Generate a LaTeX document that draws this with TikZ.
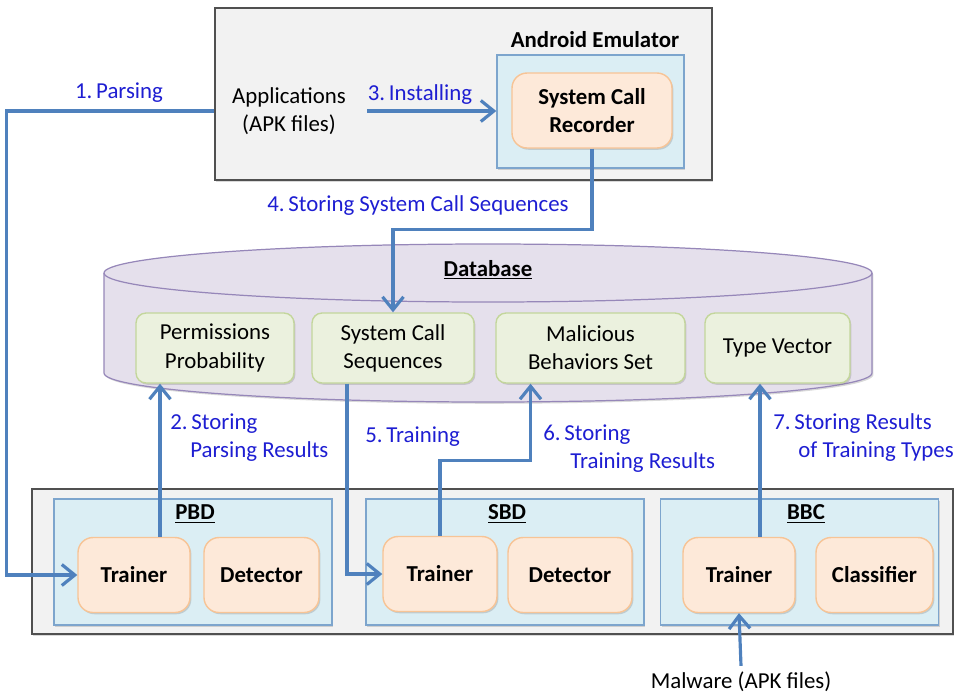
\documentclass[tikz,border=0pt]{standalone}
\usepackage{fontspec}
\setmainfont{Carlito}
\usetikzlibrary{arrows.meta,shadows}
\definecolor{bleufleche}{RGB}{79,129,189}
\definecolor{bleutexte}{RGB}{30,30,210}
\definecolor{grisfond}{RGB}{242,242,242}
\definecolor{grisbord}{RGB}{80,80,80}
\definecolor{bleufond}{RGB}{219,238,244}
\definecolor{bleubord}{RGB}{125,165,205}
\definecolor{orangefond}{RGB}{253,233,217}
\definecolor{orangebord}{RGB}{247,196,150}
\definecolor{vertfond}{RGB}{235,241,222}
\definecolor{vertbord}{RGB}{195,214,155}
\definecolor{mauvefond}{RGB}{229,224,236}
\definecolor{mauvebord}{RGB}{150,135,185}
\begin{document}
\begin{tikzpicture}[x=0.02cm,y=-0.02cm,font=\fontsize{13}{16}\selectfont]
		\tikzstyle{fleche}=[-{Straight Barb[length=2.6mm,width=4.2mm]},line width=1.8pt,bleufleche]
		\tikzstyle{ombre}=[drop shadow={shadow xshift=0.8pt,shadow yshift=-1pt,opacity=0.3}]
		\tikzstyle{cadre}=[draw=grisbord,fill=grisfond,line width=0.9pt,ombre]
		\tikzstyle{module}=[draw=bleubord,fill=bleufond,line width=0.8pt,ombre,minimum width=5.56cm,minimum height=2.52cm]
		\tikzstyle{bloc}=[draw=orangebord,fill=orangefond,line width=0.8pt,rounded corners=0.3cm,ombre,minimum height=1.5cm,font=\fontsize{13}{16}\selectfont\bfseries,align=center]
		\tikzstyle{donnee}=[draw=vertbord,fill=vertfond,line width=0.8pt,rounded corners=0.2cm,ombre,minimum height=1.4cm,align=center]
		\tikzstyle{titre}=[font=\fontsize{13}{16}\selectfont\bfseries]
		\tikzstyle{etiquette}=[text=bleutexte,inner sep=0pt,align=left,font=\fontsize{13}{16.4}\selectfont]
		\useasboundingbox (0,0) rectangle (957,698);
		% emulateur en haut
		\node[cadre,minimum width=9.94cm,minimum height=3.44cm] (Emul) at (463.5,94) {};
		\node[titre] (EmulT) at (595,40) {Android Emulator};
		\node[module,minimum width=3.74cm,minimum height=2.26cm] (VM) at (590.5,111.5) {};
		\node[bloc,minimum width=3.2cm] (Rec) at (592,110.5) {System Call\\Recorder};
		\node[align=center] (Apps) at (289,111) {Applications\\(APK files)};
		% base de donnees
		\fill[mauvefond,ombre] (104,273) -- (104,373) arc[start angle=180,end angle=0,x radius=384,y radius=29]
			-- (872,273) arc[start angle=0,end angle=-180,x radius=384,y radius=29] -- cycle;
		\draw[mauvebord,line width=0.7pt] (104,273) -- (104,373) arc[start angle=180,end angle=0,x radius=384,y radius=29]
			-- (872,273);
		\draw[mauvebord,line width=0.7pt] (488,273) ellipse[x radius=384,y radius=29];
		\node[titre] (DB) at (488,270) {\underline{Database}};
		\node[donnee,minimum width=3.16cm] (Perm) at (215,348) {Permissions\\Probability};
		\node[donnee,minimum width=3.24cm] (Seq) at (393,348) {System Call\\Sequences};
		\node[donnee,minimum width=3.78cm] (Mal) at (590.5,348) {Malicious\\Behaviors Set};
		\node[donnee,minimum width=2.9cm] (Typ) at (777.5,348) {Type Vector};
		% les trois modules
		\node[cadre,minimum width=18.42cm,minimum height=2.9cm] (Bas) at (492.5,561.5) {};
		\node[module] (PBD) at (193,562) {};
		\node[module] (SBD) at (505,562) {};
		\node[module] (BBC) at (799.5,562) {};
		\node[titre] (PBDt) at (195,514) {\underline{PBD}};
		\node[titre] (SBDt) at (507,514) {\underline{SBD}};
		\node[titre] (BBCt) at (806,514) {\underline{BBC}};
		\node[bloc,minimum width=2.24cm] (TrA) at (134,575) {Trainer};
		\node[bloc,minimum width=2.3cm] (DetA) at (261.5,575) {Detector};
		\node[bloc,minimum width=2.28cm] (TrB) at (440,574) {Trainer};
		\node[bloc,minimum width=2.48cm] (DetB) at (570,575) {Detector};
		\node[bloc,minimum width=2.24cm] (TrC) at (739,575) {Trainer};
		\node[bloc,minimum width=2.34cm] (Cls) at (874.5,575) {Classifier};
		\node (Malw) at (741,682) {Malware (APK files)};
		% fleches et etiquettes
		\draw[fleche] (Emul.west |- Apps) -- ++(-208,0) |- (TrA.west);
		\node[etiquette] (E1) at (119,93) {1.\,Parsing};
		\draw[fleche] ([xshift=0.52cm]TrA.north) -- ([xshift=0.52cm]TrA.north |- Perm.south);
		\node[etiquette,anchor=west] (E2) at (170,437.5) {2.\,Storing\\\hspace{0.4cm}Parsing Results};
		\draw[fleche] ([xshift=0.3cm]Apps.east) -- (VM.west |- Apps);
		\node[etiquette] (E3) at (420,95) {3.\,Installing};
		\draw[fleche] (Rec.south) -- ++(0,81) -| (Seq.north);
		\node[etiquette] (E4) at (418,206) {4.\,Storing System Call Sequences};
		\draw[fleche] ([xshift=-0.92cm]Seq.south) |- (TrB.west);
		\node[etiquette,anchor=west] (E5) at (365,437) {5.\,Training};
		\draw[fleche] (TrB.north) -- ++(0,-75) -| ([xshift=-1.2cm]Mal.south);
		\node[etiquette,anchor=west] (E6) at (543,448.5) {6.\,Storing\\\hspace{0.54cm}Training Results};
		\draw[fleche] ([xshift=0.42cm]TrC.north) -- ([xshift=0.42cm]TrC.north |- Typ.south);
		\node[etiquette,anchor=west] (E7) at (773,437.5) {7.\,Storing Results\\\hspace{0.5cm}of Training Types};
		\draw[fleche] (Malw.north) -- (TrC.south);
	\end{tikzpicture}
\end{document}
